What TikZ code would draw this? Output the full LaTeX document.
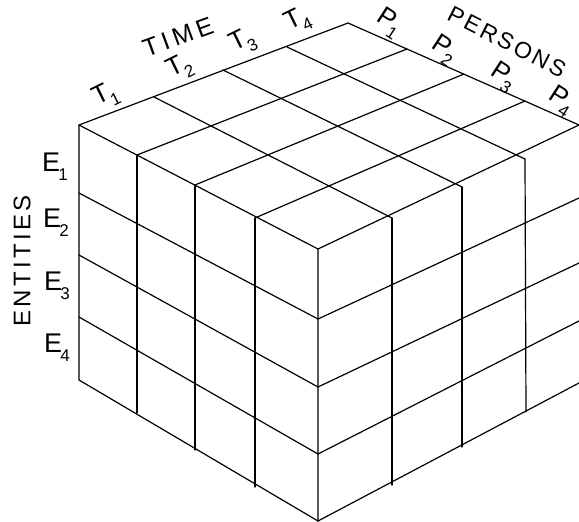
\documentclass[tikz,border=0pt]{standalone}
\usepackage{fontspec}
\setmainfont{Liberation Sans}
\newcommand{\lsub}[1]{\kern-0.06em\raisebox{-0.32em}{\fontsize{17}{17}\selectfont #1}}
\begin{document}
\begin{tikzpicture}[x=1pt,y=-1pt,
  edge/.style={line width=1.2pt, line join=round, line cap=round},
  lab/.style={inner sep=0pt, font=\fontsize{26}{28}\selectfont},
  word/.style={inner sep=0pt, font=\fontsize{24}{28}\selectfont\addfontfeature{LetterSpace=14}}]
\useasboundingbox (0,0) rectangle (579,522);
% top face
\coordinate (L) at (79,125);
\coordinate (B) at (348,23);
\coordinate (R) at (579,125);
\coordinate (F) at (318,249);
\coordinate (t1) at (154,97);  \coordinate (t2) at (223,70);  \coordinate (t3) at (287,47);
\coordinate (r1) at (392,218); \coordinate (r2) at (462,187); \coordinate (r3) at (525,159);
\coordinate (p1) at (137,155); \coordinate (p2) at (195,185); \coordinate (p3) at (255,218);
\coordinate (q1) at (407,49);  \coordinate (q2) at (464,74);  \coordinate (q3) at (525,101);
% left face
\coordinate (BL) at (79,380);
\coordinate (BF) at (318,521);
\coordinate (l1) at (79,193);  \coordinate (l2) at (79,255);  \coordinate (l3) at (79,317);
\coordinate (f1) at (318,319); \coordinate (f2) at (318,387); \coordinate (f3) at (318,454);
\coordinate (b1) at (137,413); \coordinate (b2) at (195,450); \coordinate (b3) at (255,487);
% right face
\coordinate (RB) at (579,383);
\coordinate (g1) at (579,198); \coordinate (g2) at (579,263); \coordinate (g3) at (579,321);
\coordinate (c1) at (392,485); \coordinate (c2) at (462,447); \coordinate (c3) at (526,412);

% outlines
\draw[edge] (L) -- (B) -- (R) -- (F) -- cycle;
\draw[edge] (L) -- (BL) -- (BF) -- (F);
\draw[edge] (BF) -- (RB);
\foreach \i in {1,2,3} {
  \draw[edge] (t\i) -- (r\i);
  \draw[edge] (p\i) -- (q\i);
  \draw[edge] (p\i) -- (b\i);
  \draw[edge] (l\i) -- (f\i);
  \draw[edge] (f\i) -- (g\i);
  \draw[edge] (r\i) -- (c\i);
}

% labels
\node[word, rotate=20, font=\fontsize{25}{28}\selectfont\addfontfeature{LetterSpace=18}] (time) at (178,37) {TIME};
\node[lab, rotate=26] (T1) at (106,96) {T\lsub{1}};
\node[lab, rotate=26] (T2) at (180,68) {T\lsub{2}};
\node[lab, rotate=26] (T3) at (243,42) {T\lsub{3}};
\node[lab, rotate=26] (T4) at (298,21) {T\lsub{4}};
\node[word, rotate=-27, font=\fontsize{23}{28}\selectfont\addfontfeature{LetterSpace=12}] (persons) at (507,42) {PERSONS};
\node[lab, rotate=-33] (P1) at (389,23) {P\lsub{1}};
\node[lab, rotate=-33] (P2) at (444,50) {P\lsub{2}};
\node[lab, rotate=-33] (P3) at (503,77) {P\lsub{3}};
\node[lab, rotate=-33] (P4) at (561,101) {P\lsub{4}};
\node[lab, font=\fontsize{27}{28}\selectfont] (E1) at (55,167) {E\lsub{1}};
\node[lab, font=\fontsize{27}{28}\selectfont] (E2) at (56,223) {E\lsub{2}};
\node[lab, font=\fontsize{27}{28}\selectfont] (E3) at (57,286) {E\lsub{3}};
\node[lab, font=\fontsize{27}{28}\selectfont] (E4) at (57,348) {E\lsub{4}};
\node[word, rotate=90] (ent) at (22,261) {ENTITIES};
\end{tikzpicture}
\end{document}
